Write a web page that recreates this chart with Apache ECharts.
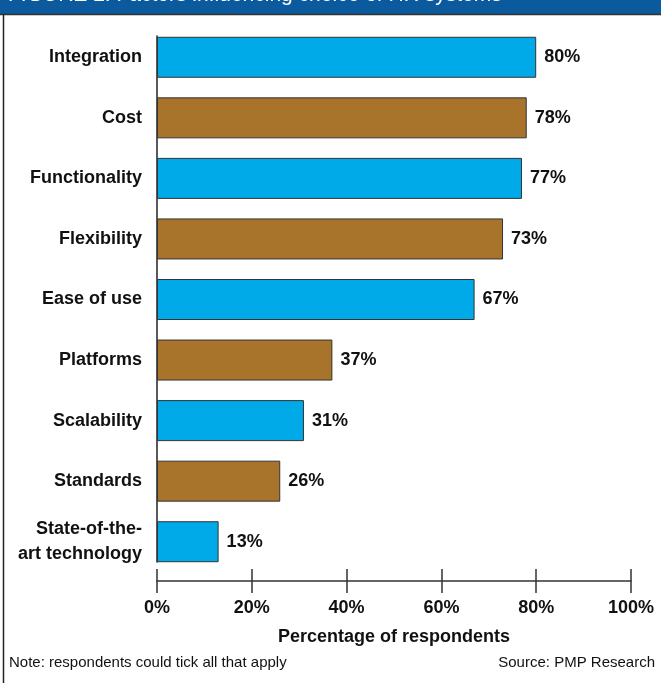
<!DOCTYPE html>
<html>
<head>
<meta charset="utf-8">
<script src="https://cdn.jsdelivr.net/npm/echarts@6/dist/echarts.min.js"></script>
<style>
  html, body { margin: 0; padding: 0; background: #ffffff; }
  #chart { width: 661px; height: 683px; }
</style>
</head>
<body>
<div id="chart"></div>
<script>
// Survey: factors influencing choice of HR systems (% of respondents)
const categories = [
  'Integration', 'Cost', 'Functionality', 'Flexibility', 'Ease of use',
  'Platforms', 'Scalability', 'Standards', 'State-of-the-\nart technology'
];
const values = [80, 78, 77, 73, 67, 37, 31, 26, 13];
const xTicks = [0, 20, 40, 60, 80, 100];
const barColors = ['#00A9E8', '#A8742B'];

const FONT = '"Liberation Sans", Arial, Helvetica, sans-serif';
const INK = '#111111';

const chart = echarts.init(document.getElementById('chart'), null, { renderer: 'canvas' });

const xMin = xTicks[0];
const xMax = xTicks[xTicks.length - 1];
const xStep = xTicks[1] - xTicks[0];

const option = {
  backgroundColor: '#ffffff',
  animation: false,
  grid: [
    // plotting area for the bars
    { left: 157, right: 30, top: 27, height: 545 },
    // spans the bar extents only; carries the vertical axis rule
    { left: 157, right: 30, top: 36, height: 526 }
  ],
  xAxis: [
    {
      type: 'value', gridIndex: 0, min: xMin, max: xMax, interval: xStep,
      position: 'bottom', offset: 9,
      axisLine: { show: true, lineStyle: { color: '#333', width: 1.5 } },
      axisTick: { show: true, length: 12, lineStyle: { color: '#333', width: 1.5 } },
      splitLine: { show: false },
      axisLabel: {
        margin: 18, color: INK, fontFamily: FONT, fontWeight: 'bold', fontSize: 18,
        formatter: v => v + '%'
      },
      name: 'Percentage of respondents',
      nameLocation: 'middle', nameGap: 47,
      nameTextStyle: { color: INK, fontFamily: FONT, fontWeight: 'bold', fontSize: 18 }
    },
    {
      // inward half of the crossing ticks
      type: 'value', gridIndex: 0, min: xMin, max: xMax, interval: xStep,
      position: 'bottom', offset: 9,
      axisLine: { show: false },
      axisTick: { show: true, inside: true, length: 12, lineStyle: { color: '#333', width: 1.5 } },
      axisLabel: { show: false },
      splitLine: { show: false }
    },
    {
      type: 'value', gridIndex: 1, min: xMin, max: xMax, show: false
    }
  ],
  yAxis: [
    {
      type: 'category', gridIndex: 0, data: categories, inverse: true,
      axisLine: { show: false },
      axisTick: { show: false },
      axisLabel: {
        margin: 15, color: INK, fontFamily: FONT, fontWeight: 'bold', fontSize: 18,
        lineHeight: 25, align: 'right'
      }
    },
    {
      type: 'value', gridIndex: 1, min: 0, max: 1,
      axisLine: { show: true, lineStyle: { color: '#222', width: 1.5 } },
      axisTick: { show: false },
      axisLabel: { show: false },
      splitLine: { show: false }
    }
  ],
  series: [
    {
      type: 'bar',
      xAxisIndex: 0, yAxisIndex: 0,
      barWidth: 41,
      data: values.map((v, i) => ({
        value: v,
        itemStyle: { color: barColors[i % 2] }
      })),
      itemStyle: { borderColor: '#333', borderWidth: 1 },
      label: {
        show: true, position: 'right', distance: 8,
        color: INK, fontFamily: FONT, fontWeight: 'bold', fontSize: 18,
        formatter: p => p.value + '%'
      }
    }
  ],
  graphic: [
    {
      type: 'rect', left: 0, top: 0, z: 10,
      shape: { width: 661, height: 14 },
      style: { fill: '#0B5A9D' }
    },
    {
      type: 'text', left: 8, top: -15, z: 11,
      style: {
        text: 'FIGURE 2: Factors influencing choice of HR systems',
        fill: '#ffffff', font: '21px ' + FONT
      }
    },
    {
      type: 'line', z: 12,
      shape: { x1: 0, y1: 14.5, x2: 661, y2: 14.5 },
      style: { stroke: '#333', lineWidth: 1.5 }
    },
    {
      type: 'line', z: 12,
      shape: { x1: 3.5, y1: 14, x2: 3.5, y2: 683 },
      style: { stroke: '#222', lineWidth: 1.5 }
    },
    {
      type: 'text', left: 9, top: 655,
      style: {
        text: 'Note: respondents could tick all that apply',
        fill: INK, font: '15px ' + FONT
      }
    },
    {
      type: 'text', right: 6, top: 655,
      style: {
        text: 'Source: PMP Research',
        fill: INK, font: '15px ' + FONT
      }
    }
  ]
};

chart.setOption(option);
</script>
</body>
</html>
